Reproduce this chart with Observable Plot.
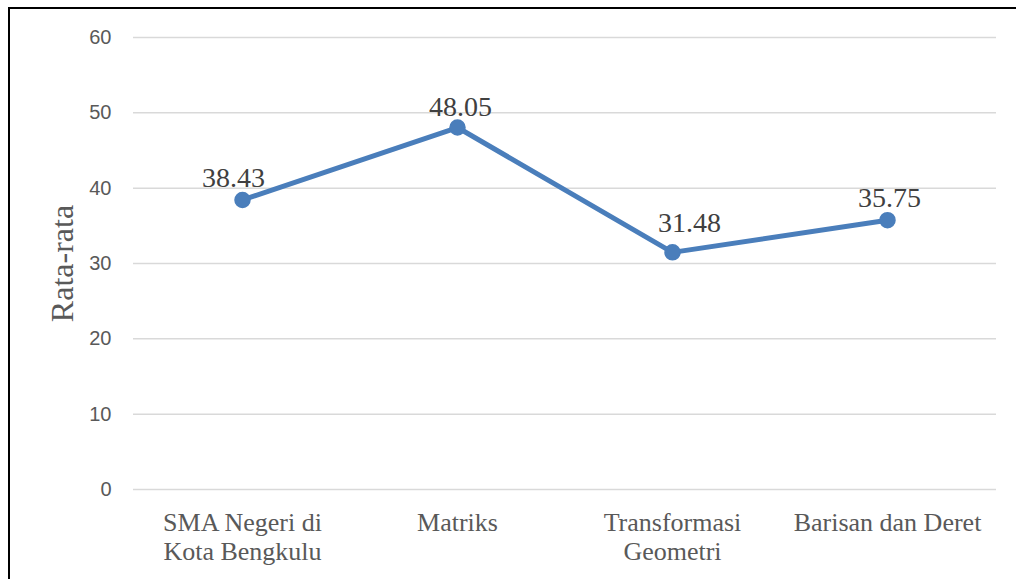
<!DOCTYPE html>
<html>
<head>
<meta charset="utf-8">
<script src="https://cdn.jsdelivr.net/npm/d3@7"></script>
<script src="https://cdn.jsdelivr.net/npm/@observablehq/plot@0.6"></script>
<style>
  html, body { margin: 0; padding: 0; background: #fff; }
  #wrap { position: relative; width: 1016px; height: 579px; overflow: hidden; }
  #frame { position: absolute; left: 8px; top: 7px; width: 1100px; height: 700px;
           border-left: 2px solid #000; border-top: 2px solid #000; pointer-events: none; }
  #chart { position: absolute; left: 0; top: 0; }
</style>
</head>
<body>
<div id="wrap"><div id="chart"></div><div id="frame"></div></div>
<script>
const categories = ["SMA Negeri di Kota Bengkulu", "Matriks", "Transformasi Geometri", "Barisan dan Deret"];
const values = [38.43, 48.05, 31.48, 35.75];
const tickLabels = ["SMA Negeri di\nKota Bengkulu", "Matriks", "Transformasi\nGeometri", "Barisan dan Deret"];
const yTicks = [0, 10, 20, 30, 40, 50, 60];
const yLabel = "Rata-rata";

const data = categories.map((c, i) => ({category: c, value: values[i], label: values[i].toFixed(2)}));

// label nudges (screen px), as placed in the original
const labelDx = [-9, 3, 17, 2];
const labelDy = [-13, -12, -20, -13];

const lineColor = "#4a7ebb";

const chart = Plot.plot({
  width: 1016,
  height: 579,
  marginLeft: 133,
  marginRight: 20,
  marginTop: 37,
  marginBottom: 90,
  style: {background: "transparent"},
  x: {type: "point", domain: categories, padding: 0.5, label: null},
  y: {domain: [0, 60], label: null},
  marks: [
    Plot.gridY(yTicks, {stroke: "#d9d9d9", strokeOpacity: 1, strokeWidth: 1.5}),
    Plot.axisY(yTicks, {tickSize: 0, tickPadding: 22, fontSize: 20, fontFamily: "Liberation Sans", fill: "#595959", label: null}),
    Plot.axisX(categories, {
      tickSize: 0, tickPadding: 22, fontSize: 26, fontFamily: "Liberation Serif",
      fill: "#595959", lineHeight: 1.08, label: null,
      tickFormat: d => tickLabels[categories.indexOf(d)]
    }),
    Plot.line(data, {x: "category", y: "value", stroke: lineColor, strokeWidth: 5}),
    Plot.dot(data, {x: "category", y: "value", r: 7.5, fill: lineColor, stroke: lineColor}),
    ...data.map((d, i) => Plot.text([d], {
      x: "category", y: "value", text: "label", lineAnchor: "bottom",
      dx: labelDx[i], dy: labelDy[i], fontSize: 28, fontFamily: "Liberation Serif", fill: "#404040"
    })),
    Plot.text([yLabel], {frameAnchor: "left", textAnchor: "middle", lineAnchor: "middle", rotate: -90, dx: -71, fontSize: 32, fontFamily: "Liberation Serif", fill: "#595959"})
  ]
});
document.getElementById("chart").appendChild(chart);
</script>
</body>
</html>
